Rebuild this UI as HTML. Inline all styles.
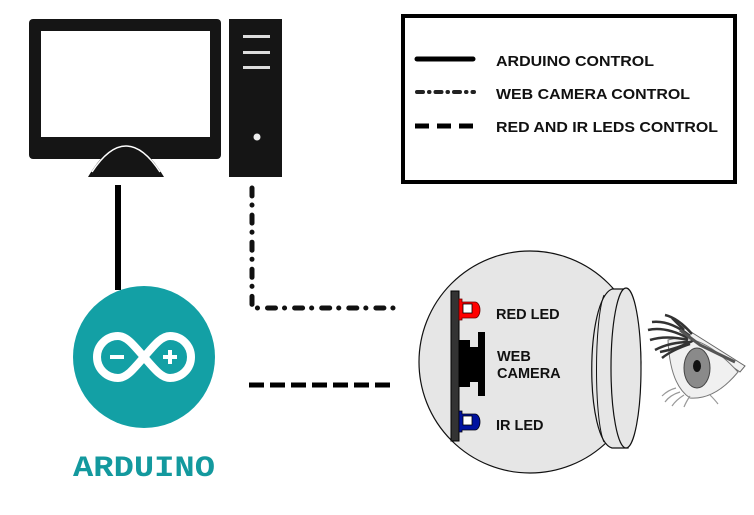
<!DOCTYPE html>
<html><head><meta charset="utf-8"><style>
html,body{margin:0;padding:0;background:#fff;}
svg{display:block}
text{font-family:"Liberation Sans",Arial,sans-serif;font-weight:bold;fill:#111}
</style></head><body>
<svg width="754" height="515" viewBox="0 0 754 515" xmlns="http://www.w3.org/2000/svg">
<!-- monitor -->
<rect x="29" y="19" width="192" height="140" rx="4" fill="#151515"/>
<rect x="41" y="31" width="169" height="106" fill="#fff"/>
<path d="M88 177 Q126 112 164 177 Z" fill="#151515"/>
<path d="M92 172 Q126 120 160 172" fill="none" stroke="#fff" stroke-width="1.5"/>
<!-- tower -->
<rect x="229" y="19" width="53" height="158" fill="#151515"/>
<rect x="243" y="35" width="27" height="3" fill="#ddd"/>
<rect x="243" y="51" width="27" height="3" fill="#ddd"/>
<rect x="243" y="66" width="27" height="3" fill="#ddd"/>
<circle cx="257" cy="137" r="3.5" fill="#eee"/>
<!-- arduino control line -->
<rect x="115" y="185" width="6" height="105" fill="#000"/>
<!-- dash-dot -->
<path d="M252 188 V308 H398" fill="none" stroke="#111" stroke-width="5" stroke-linecap="round" stroke-dasharray="8 9 0.1 10"/>
<!-- dashed -->
<path d="M249 385 H390" fill="none" stroke="#000" stroke-width="5" stroke-dasharray="15 6"/>
<!-- arduino logo -->
<circle cx="144" cy="357" r="71" fill="#13a0a5"/>
<path d="M144 357 C132 343 126 336 118 336 A21 21 0 0 0 118 378 C126 378 132 371 144 357 C156 343 162 336 170 336 A21 21 0 0 1 170 378 C162 378 156 371 144 357 Z" fill="none" stroke="#fff" stroke-width="8" stroke-linejoin="round"/>
<rect x="110" y="355" width="14" height="4" fill="#fff"/>
<rect x="163" y="355" width="14" height="4" fill="#fff"/>
<rect x="168" y="350" width="4" height="14" fill="#fff"/>
<text x="73" y="476" textLength="142" lengthAdjust="spacingAndGlyphs" style="font-family:'Liberation Mono',monospace;font-size:30px;fill:#13999e;font-weight:bold">ARDUINO</text>
<!-- legend -->
<rect x="403" y="16" width="332" height="166" fill="none" stroke="#000" stroke-width="4"/>
<line x1="417" y1="59" x2="473" y2="59" stroke="#000" stroke-width="5" stroke-linecap="round"/>
<path d="M417 92 H474" stroke="#222" stroke-width="4" stroke-linecap="round" stroke-dasharray="6 6 0.5 6"/>
<path d="M415 126 H474" stroke="#000" stroke-width="5" stroke-dasharray="14 8"/>
<text x="496" y="66" font-size="15" textLength="158" lengthAdjust="spacingAndGlyphs">ARDUINO CONTROL</text>
<text x="496" y="99" font-size="15" textLength="194" lengthAdjust="spacingAndGlyphs">WEB CAMERA CONTROL</text>
<text x="496" y="132" font-size="15" textLength="222" lengthAdjust="spacingAndGlyphs">RED AND IR LEDS CONTROL</text>
<!-- camera sphere -->
<circle cx="530" cy="362" r="111" fill="#e6e6e6" stroke="#111" stroke-width="1.2"/>
<path d="M612 289 C585 300 585 440 612 448 L628 448 L628 289 Z" fill="#e6e6e6" stroke="#111" stroke-width="1.2"/>
<ellipse cx="626" cy="368" rx="15" ry="80" fill="#e6e6e6" stroke="#111" stroke-width="1.2"/>
<path d="M604 295 C594 320 594 420 604 442" fill="none" stroke="#111" stroke-width="1"/>
<rect x="451" y="291" width="8" height="150" fill="#333" stroke="#000" stroke-width="1"/>
<path d="M459 299 h3 v3 h13 a5 8 0 0 1 0 16 h-13 v2 h-3 Z" fill="#f00" stroke="#600" stroke-width="0.8"/>
<rect x="463" y="304" width="9" height="9" fill="#fff" stroke="#000" stroke-width="0.8"/>
<path d="M459 411 h3 v3 h13 a5 8 0 0 1 0 16 h-13 v2 h-3 Z" fill="#0012a0" stroke="#001" stroke-width="0.8"/>
<rect x="463" y="416" width="9" height="9" fill="#fff" stroke="#000" stroke-width="0.8"/>
<rect x="459" y="340" width="11" height="47" fill="#000"/>
<rect x="470" y="347" width="8" height="35" fill="#000"/>
<rect x="478" y="332" width="7" height="64" fill="#000"/>
<text x="496" y="319" font-size="14.5">RED LED</text>
<text x="497" y="361" font-size="14.5">WEB</text>
<text x="497" y="378" font-size="14.5">CAMERA</text>
<text x="496" y="430" font-size="14.5">IR LED</text>
<!-- eye -->
<path d="M680 325 L745 366 L740 372 L688 336 Z" fill="#f2f2f2" stroke="#666" stroke-width="1"/>
<path d="M668 340 Q700 330 738 372 Q715 400 690 398 Q670 385 668 340Z" fill="#f0f0f0" stroke="#777" stroke-width="1"/>
<ellipse cx="697" cy="368" rx="13" ry="20" fill="#8a8a8a" stroke="#444"/>
<ellipse cx="697" cy="366" rx="4" ry="6" fill="#111"/>
<g stroke="#333" stroke-width="2.5" fill="none">
<path d="M690 336 Q670 320 652 322"/><path d="M688 338 Q665 326 648 330"/><path d="M688 340 Q666 335 650 340"/>
<path d="M690 342 Q670 342 655 350"/><path d="M692 334 Q678 318 665 315"/><path d="M694 340 Q680 348 660 352"/>
<path d="M690 344 Q672 350 662 358"/><path d="M684 330 Q676 322 672 318"/>
</g>
<path d="M680 330 L700 345 L735 362" stroke="#555" stroke-width="3" fill="none"/>
<g stroke="#999" stroke-width="1.2" fill="none">
<path d="M680 392 Q670 395 665 402"/><path d="M684 395 Q676 400 672 406"/><path d="M690 396 Q686 402 684 407"/>
<path d="M676 388 Q668 390 662 396"/><path d="M710 395 Q715 400 718 404"/>
</g>
</svg>
</body></html>
